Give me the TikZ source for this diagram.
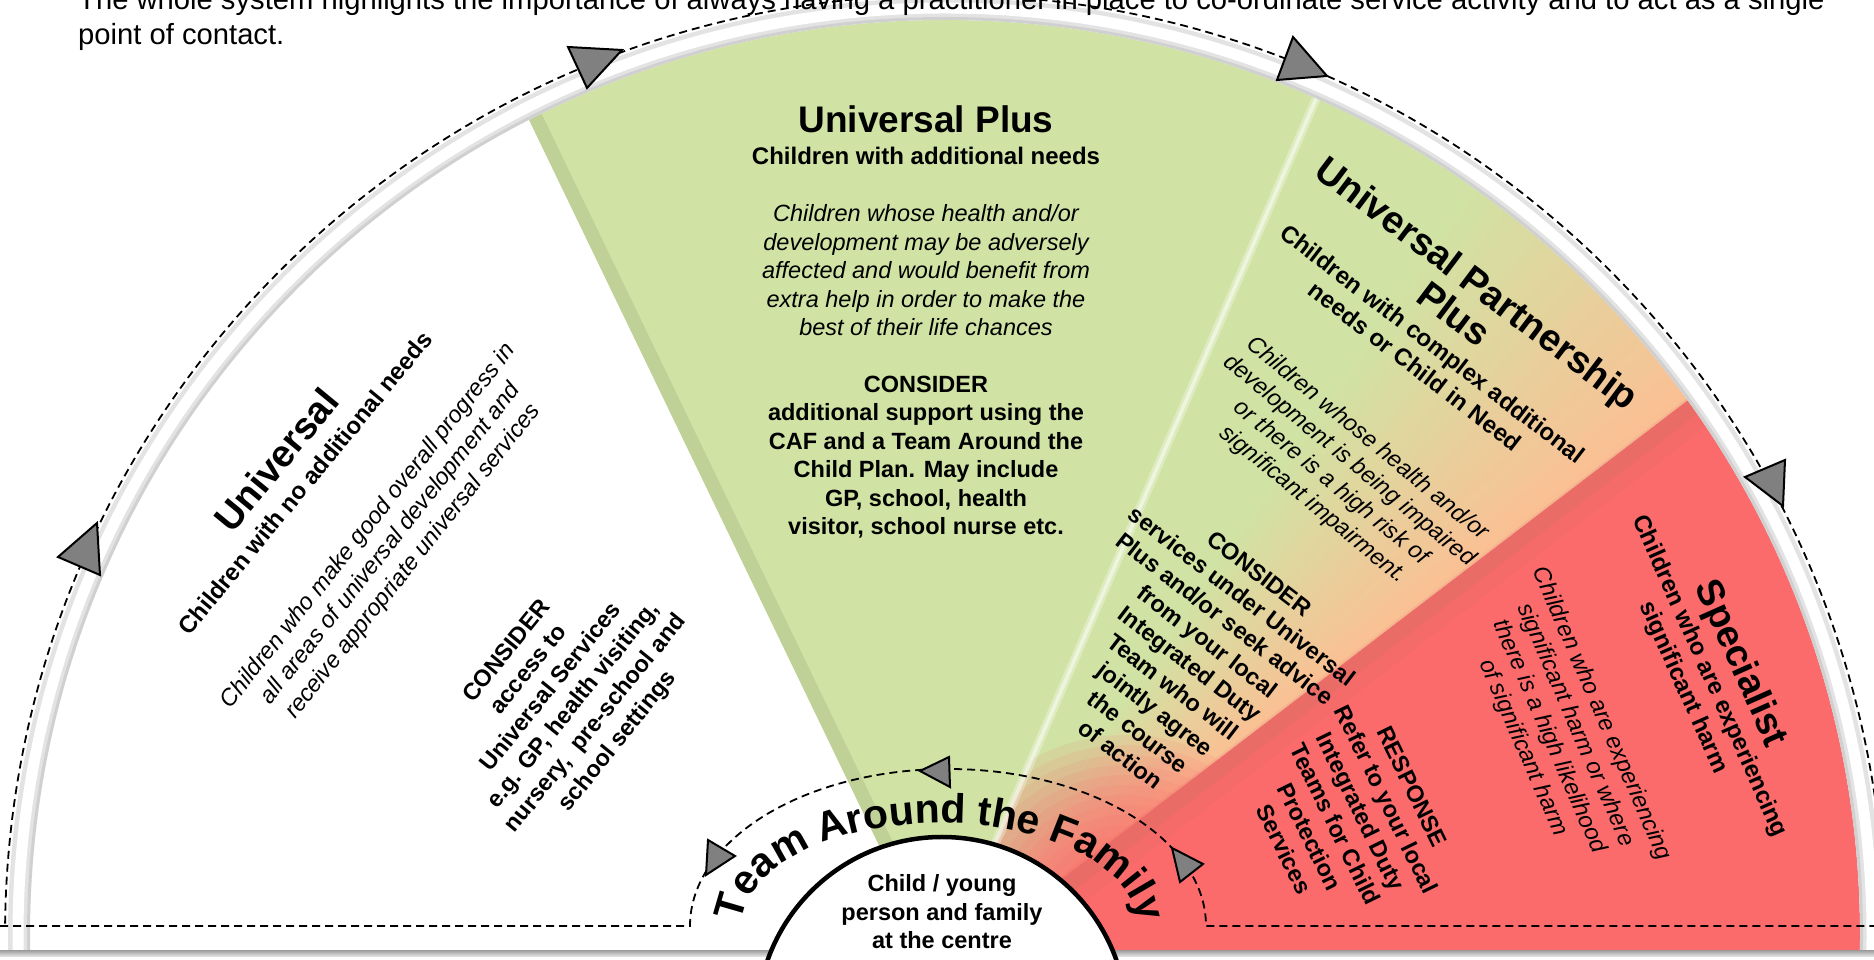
\documentclass[tikz,border=0pt]{standalone}
\usepackage{fontspec}
\setmainfont{Liberation Sans}
\usetikzlibrary{calc,decorations.text}
\definecolor{upgreen}{RGB}{208,227,164}
\definecolor{spred}{RGB}{252,107,107}
\definecolor{peach}{RGB}{250,192,148}
\definecolor{trigray}{RGB}{128,128,128}
\definecolor{shadowred}{RGB}{196,112,95}
\begin{document}
\begin{tikzpicture}[x=1pt,y=1pt,
  dashln/.style={dash pattern=on 8pt off 5pt, line width=1.8pt},
  tri/.style={fill=trigray, draw=black, line width=2pt, line join=miter},
  ttl/.style={font=\fontsize{38}{39}\selectfont\bfseries, align=center, inner sep=0pt},
  sub/.style={font=\fontsize{24}{28.5}\selectfont\bfseries, align=center, inner sep=0pt},
  ital/.style={font=\fontsize{23.5}{28.5}\selectfont\itshape, align=center, inner sep=0pt},
  bbod/.style={font=\fontsize{23.5}{28.5}\selectfont\bfseries, align=center, inner sep=0pt},
  toptxt/.style={font=\fontsize{29.2}{35}\selectfont, anchor=base west, inner sep=0pt},
]
\useasboundingbox (0,0) rectangle (1874,960);
\clip (0,0) rectangle (1874,960);
\coordinate (O) at (945,25);
\coordinate (P) at (940,-12);

% ---------- fan ----------
\begin{scope}
  \clip (0,9) rectangle (1874,960);
  \fill[white] (O) circle (915);
  \begin{scope}
    \clip (O) circle (915);
    \fill[upgreen] (P) -- ($(P)+(115.75:1400)$) -- ($(P)+(66.7:1400)$) -- cycle;
    \foreach \i in {0,...,58}{
      \pgfmathsetmacro\aa{37.4+0.5*\i}
      \pgfmathsetmacro\bb{\aa+0.6}
      \pgfmathsetmacro\pp{min(100,2.7*\i)}
      \fill[upgreen!\pp!peach] (P) -- ($(P)+(\aa:1400)$) -- ($(P)+(\bb:1400)$) -- cycle;
    }
    % soft red blush at the foot of the sector
    \begin{scope}
      \clip (P) -- ($(P)+(37:1400)$) -- ($(P)+(67:1400)$) -- cycle;
      \foreach \r in {190,180,...,40}{
        \fill[spred, opacity=0.11] (1125,35) circle (\r);
      }
    \end{scope}
    \fill[spred] (P) -- ($(P)+(37.4:1400)$) -- ($(P)+(-20:1400)$) -- cycle;
    \draw[shadowred, line width=34pt, opacity=0.14] ($(P)+(9,-12)$) -- ++(37.4:1400);
    \draw[shadowred, line width=16pt, opacity=0.2] ($(P)+(5,-7)$) -- ++(37.4:1400);
    \draw[white, line width=9pt, opacity=0.3] (P) -- ++(66.7:1400);
    \draw[white, line width=3.5pt, opacity=0.5] (P) -- ++(66.7:1400);
    \draw[black!60!upgreen, line width=14pt, opacity=0.13] ($(P)+(6.3,3.1)$) -- ++(115.75:1400);
  \end{scope}
  % rim
  \draw[black!11, line width=22pt] (O) circle (926);
  \draw[white, line width=11pt] (O) circle (927);
  \draw[black!25, line width=3pt, opacity=0.5] (O) circle (916.5);
\end{scope}
\shade[top color=black!35, bottom color=black!8] (0,3) rectangle (1874,9);

% ---------- dashed cycles ----------
\coordinate (bl) at (0,34);
\coordinate (tafl) at (690,34);
\coordinate (br) at (1874,34);
\draw[dashln] ($(O)+(0.55:940)$) arc[start angle=0.55, end angle=179.45, radius=940];
\draw[dashln] (bl) -- (tafl) arc[start angle=180, end angle=0, x radius=258, y radius=157] -- (br);

% outer triangles
\filldraw[tri] (58,403) -- (97,437) -- (100,385) -- cycle;
\filldraw[tri] (568,913) -- (622,910) -- (587,872) -- cycle;
\filldraw[tri] (1293,923) -- (1277,880) -- (1327,884) -- cycle;
\filldraw[tri] (1745,483) -- (1785,500) -- (1783,454) -- cycle;
% inner triangles
\filldraw[tri] (708,120) -- (735,104) -- (706,85) -- cycle;
\filldraw[tri] (920,189) -- (949,203) -- (950,173) -- cycle;
\filldraw[tri] (1172,112) -- (1203,96) -- (1180,78) -- cycle;

% ---------- centre ----------
\path[decorate, decoration={text along path, text align=center,
  text={|\fontsize{41}{41}\selectfont\bfseries|Team Around the Family}}]
  (742,34) arc[start angle=180, end angle=0, x radius=198, y radius=103];
\filldraw[fill=white, draw=black, line width=4.5pt] (942,-62) circle (185);
\node[bbod] (child) at (942,48) {Child / young\\person and family\\at the centre};

% ---------- Universal ----------
\node[ttl, rotate=50.5] (utitle) at (276,500) {Universal};
\node[sub, rotate=50.5] (usub) at (305,477) {Children with no additional needs};
\node[ital, rotate=51.5] (uital) at (391,416) {Children who make good overall progress in\\all areas of universal development and\\receive appropriate universal services};
\node[bbod, rotate=51] (ucons) at (563,263) {CONSIDER\\access to\\Universal Services\\e.g. GP, health visiting,\\nursery,\ \ pre-school and\\school settings};

% ---------- Universal Plus ----------
\node[ttl, font=\fontsize{37}{39}\selectfont\bfseries] (ptitle0) at (926,841) {Universal Plus};
\node[sub] (psub0) at (926,804) {Children with additional needs};
\node[ital] (pital0) at (926,689.5) {Children whose health and/or\\development may be adversely\\affected and would benefit from\\extra help in order to make the\\best of their life chances};
\node[bbod] (pcons0) at (926,503) {CONSIDER\\additional support using the\\CAF and a Team Around the\\Child Plan. May include\\GP, school, health\\visitor, school nurse etc.};

% ---------- Universal Partnership Plus ----------
\node[ttl, rotate=-37] (ptitle) at (1466,662) {Universal Partnership\\Plus};
\node[sub, rotate=-37.5] (psub) at (1424,605) {Children with complex additional\\needs or Child in Need};
\node[ital, rotate=-39.5] (pital) at (1340,488) {Children whose health and/or\\development is being impaired\\or there is a high risk of\\significant impairment.};
\node[bbod, rotate=-37.5] (pcons) at (1190,296) {CONSIDER\\services under Universal\\Plus and/or seek advice\\from your local\\Integrated Duty\\Team who will\\jointly agree\\the course\\of action};

% ---------- Specialist ----------
\node[ttl, rotate=-66] (stitle) at (1740,296) {Specialist};
\node[sub, rotate=-66] (ssub) at (1696,278) {Children who are experiencing\\significant harm};
\node[ital, rotate=-66.5] (sital) at (1562,229) {Children who are experiencing\\significant harm or where\\there is a high likelihood\\of significant harm};
\node[bbod, rotate=-64] (sresp) at (1348,142) {RESPONSE\\Refer to your local\\Integrated Duty\\Teams for Child\\Protection\\Services};

% ---------- top text ----------
\node[toptxt] (top1) at (78,950.5) {The whole system highlights the importance of always having a practitioner in place to co-ordinate service activity and to act as a single};
\node[toptxt] (top2) at (78,915.5) {point of contact.};
\end{tikzpicture}
\end{document}
